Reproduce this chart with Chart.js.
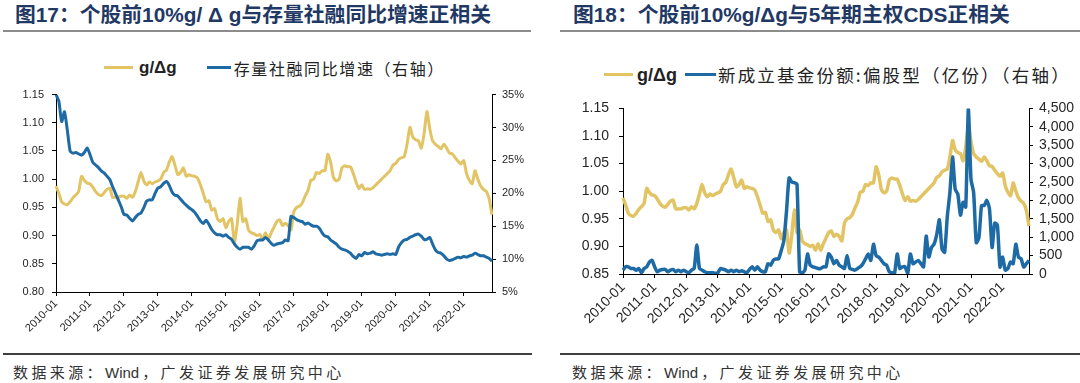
<!DOCTYPE html>
<html>
<head>
<meta charset="utf-8">
<script src="https://cdn.jsdelivr.net/npm/chart.js@4.4.0/dist/chart.umd.min.js"></script>
<style>
html,body{margin:0;padding:0;background:#fff;}
body{width:1080px;height:383px;position:relative;overflow:hidden;font-family:"Liberation Sans","Noto Sans CJK SC",sans-serif;}
.abs{position:absolute;}
.title{font-weight:bold;font-size:20.8px;color:#1F3864;white-space:nowrap;line-height:24px;}
.tline{height:2px;background:#8c8c8c;}
.fline{height:2px;background:#404040;}
.foot{font-size:15px;color:#333;white-space:nowrap;line-height:20px;font-family:"Liberation Sans","Noto Sans CJK SC",sans-serif;}
.foot .c{letter-spacing:3.4px;}
.foot .w{letter-spacing:0;margin-right:3px;}
.leg{white-space:nowrap;color:#222;}
.sw{display:inline-block;height:3px;vertical-align:middle;}
.cjk{font-family:"Noto Sans CJK SC",sans-serif;}
</style>
</head>
<body>
<div class="abs title" style="left:15px;top:3px;">图17：个股前10%g/&nbsp;Δ&nbsp;g与存量社融同比增速正相关</div>
<div class="abs tline" style="left:3px;top:30px;width:528px;"></div>
<div class="abs title" style="left:573px;top:3px;">图18：个股前10%g/Δg与5年期主权CDS正相关</div>
<div class="abs tline" style="left:560px;top:30px;width:520px;"></div>

<div class="abs leg" style="left:104px;top:56px;line-height:22px;">
  <span class="sw" style="width:29px;background:#E2C464;"></span><span style="font-weight:bold;font-size:17px;margin-left:6px;vertical-align:middle;">g/Δg</span><span class="sw" style="width:24px;background:#1D6AA5;margin-left:30px;"></span><span class="cjk" style="font-size:16px;letter-spacing:1.6px;vertical-align:middle;margin-left:3px;">存量社融同比增速（右轴）</span>
</div>
<div class="abs leg" style="left:604px;top:62px;line-height:24px;">
  <span class="sw" style="width:29px;background:#E2C464;"></span><span style="font-weight:bold;font-size:18px;margin-left:4px;vertical-align:middle;">g/Δg</span><span class="sw" style="width:31px;background:#1D6AA5;margin-left:8px;"></span><span class="cjk" style="font-size:17.5px;letter-spacing:2.2px;vertical-align:middle;margin-left:2px;">新成立基金份额:偏股型（亿份）（右轴）</span>
</div>

<canvas id="c1" class="abs" width="540" height="270" style="left:0px;top:80px;"></canvas>
<canvas id="c2" class="abs" width="540" height="260" style="left:540px;top:90px;"></canvas>

<div class="abs fline" style="left:3px;top:353px;width:529px;"></div>
<div class="abs fline" style="left:560px;top:353px;width:520px;"></div>
<div class="abs foot" style="left:13px;top:363px;"><span class="c">数据来源：</span><span class="w">Wind</span><span class="c">，广发证券发展研究中心</span></div>
<div class="abs foot" style="left:572px;top:363px;"><span class="c">数据来源：</span><span class="w">Wind</span><span class="c">，广发证券发展研究中心</span></div>

<script>
// ---- categories (monthly, 2010-01 .. 2022-11) ----
const startYear = 2010;
const monthCount = 155;
const categories = [];
for (let i = 0; i < monthCount; i++) {
  const y = startYear + Math.floor(i / 12);
  const m = (i % 12) + 1;
  categories.push(y + '-' + (m < 10 ? '0' + m : '' + m));
}

// g/Δg of top-10% stocks (left axis, both charts)
const gdg = [
  0.988,0.975,0.960,0.956,0.955,0.960,0.967,0.972,0.978,1.005,0.998,0.993,
  0.992,0.986,0.978,0.973,0.971,0.976,0.982,0.984,0.968,0.968,0.968,0.970,
  0.970,0.966,0.972,0.968,0.978,0.995,1.012,0.997,0.990,0.995,0.992,0.995,
  0.997,1.000,1.012,1.016,1.030,1.040,1.025,1.008,1.012,1.020,1.005,1.008,
  1.006,1.005,1.002,0.990,0.975,0.960,0.962,0.945,0.948,0.930,0.925,0.930,
  0.914,0.925,0.930,0.888,0.920,0.966,0.925,0.930,0.910,0.905,0.903,0.900,
  0.902,0.893,0.905,0.893,0.905,0.915,0.925,0.928,0.918,0.922,0.918,0.910,
  0.942,0.950,0.952,0.958,0.970,0.980,0.998,1.000,1.012,1.010,1.015,1.015,
  1.044,1.030,1.003,0.997,1.000,1.020,1.024,1.022,1.022,1.010,0.995,0.983,
  0.990,0.982,0.983,0.982,0.985,0.990,0.995,1.000,1.005,1.010,1.015,1.025,
  1.028,1.035,1.038,1.040,1.062,1.092,1.075,1.070,1.068,1.055,1.080,1.120,
  1.090,1.068,1.062,1.058,1.054,1.062,1.055,1.046,1.045,1.038,1.032,1.027,
  1.033,1.010,0.998,0.992,1.015,1.000,0.988,0.982,0.978,0.965,0.937
];

// 存量社融同比增速 (%) (right axis, chart 1)
const tsfGrowth = [
  35.0,34.0,30.9,32.4,29.6,26.4,26.1,26.2,26.0,25.8,26.2,26.9,
  25.9,24.7,24.3,23.9,23.4,23.1,22.6,22.1,21.0,20.0,19.0,18.0,
  16.8,16.7,16.2,15.8,16.3,16.8,17.0,17.8,18.8,19.0,19.0,20.0,
  20.8,21.0,21.5,21.8,21.2,20.2,19.7,19.6,19.1,18.6,18.2,17.8,
  17.5,17.1,16.5,15.8,15.4,15.9,15.3,14.5,14.0,13.7,13.7,13.5,
  13.7,13.3,13.0,12.3,11.8,11.5,11.8,11.8,11.8,11.5,12.0,12.8,
  12.9,12.9,13.3,12.9,12.4,12.1,12.3,12.4,12.5,12.9,12.8,16.5,
  16.3,16.0,15.8,15.7,15.3,15.5,15.2,15.0,15.0,14.7,14.0,13.5,
  13.4,12.9,12.6,12.3,11.8,11.5,11.4,11.2,10.9,10.4,10.1,10.7,
  10.5,11.0,10.8,10.9,11.1,10.8,10.7,10.6,10.7,10.8,10.7,10.8,
  10.7,11.8,12.5,12.9,13.0,13.3,13.5,13.7,13.8,13.5,13.0,13.0,
  13.3,12.3,11.4,11.0,10.9,10.5,10.0,9.8,9.9,10.1,10.3,10.2,
  10.4,10.3,10.5,10.6,10.9,10.7,10.5,10.5,10.3,10.1,9.7
];

// 新成立基金份额:偏股型 (亿份) (right axis, chart 2)
const fundShares = [
  105,195,195,150,150,105,150,35,150,195,325,370,
  195,60,105,125,125,60,105,125,60,105,60,105,
  60,35,105,150,790,150,105,60,35,35,35,20,
  35,150,130,105,60,105,60,105,60,90,60,35,
  125,195,105,195,105,60,60,280,240,370,410,410,
  630,900,1690,2610,2500,2480,2440,60,35,105,545,240,
  195,175,150,150,195,195,545,460,280,370,240,195,
  150,500,150,125,105,150,195,280,410,545,370,810,
  500,460,370,280,240,60,35,20,545,150,195,195,
  20,545,280,325,370,280,195,1030,460,720,810,1070,
  1470,680,590,1555,2215,3180,2300,2170,1600,1950,1820,4500,
  2570,2215,850,985,1860,1860,2000,1775,720,1380,1335,190,
  460,105,150,325,280,810,460,410,190,280,370
];

// axis tick settings
const leftTicks1 = {min:0.80, max:1.15, step:0.05};
const rightTicks1 = {min:5, max:35, step:5};
const leftTicks2 = {min:0.85, max:1.15, step:0.05};
const rightTicks2 = {min:0, max:4500, step:500};

const YELLOW = '#E2C464';
const BLUE = '#1D6AA5';
const TXT = '#262626';

function fixW(w){ return function(s){ s.width = w; }; }
function fixH(h){ return function(s){ s.height = h; }; }

function makeChart(id, o) {
  return new Chart(document.getElementById(id), {
    type: 'line',
    data: {
      labels: categories,
      datasets: [
        {data: o.left, yAxisID:'y', borderColor: YELLOW, borderWidth: o.lw, pointRadius:0, tension:0.2, order:2, borderJoinStyle:'round'},
        {data: o.right, yAxisID:'y1', borderColor: BLUE, borderWidth: o.lw, pointRadius:0, tension:0.2, order:1, borderJoinStyle:'round'}
      ]
    },
    options: {
      responsive:false, animation:false, devicePixelRatio:1,
      layout:{padding:{top:o.padTop,left:0,right:0,bottom:0}},
      plugins:{legend:{display:false}, tooltip:{enabled:false}},
      scales:{
        x:{
          afterFit: fixH(o.xH),
          afterBuildTicks: function(s){ s.ticks = s.ticks.filter(t => t.value % 12 === 0); },
          grid:{drawOnChartArea:false, drawTicks:true, tickLength:4, color:'#000'},
          border:{color:'#000', width:1},
          ticks:{autoSkip:false, minRotation:45, maxRotation:45, padding:1, color:TXT, font:{size:o.fs, family:'Liberation Sans'}}
        },
        y:{
          position:'left', min:o.lt.min, max:o.lt.max,
          afterFit: fixW(o.yW),
          grid:{drawOnChartArea:false, drawTicks:true, tickLength:4, color:'#000'},
          border:{color:'#000', width:1},
          ticks:{autoSkip:false, stepSize:o.lt.step, padding:o.lPad, color:TXT, font:{size:o.fs, family:'Liberation Sans'}, callback:v=>Number(v).toFixed(2)}
        },
        y1:{
          position:'right', min:o.rt.min, max:o.rt.max,
          afterFit: fixW(o.y1W),
          grid:{drawOnChartArea:false, drawTicks:true, tickLength:4, color:'#000'},
          border:{color:'#000', width:1},
          ticks:{autoSkip:false, stepSize:o.rt.step, padding:o.rPad, color:TXT, font:{size:o.fs, family:'Liberation Sans'}, callback:o.rfmt}
        }
      }
    }
  });
}

makeChart('c1', {left:gdg, right:tsfGrowth, lt:leftTicks1, rt:rightTicks1, lw:3,
  padTop:11, xH:58, yW:56, y1W:48, fs:11, lPad:8, rPad:6, rfmt:v=>Math.round(v)+'%'});
makeChart('c2', {left:gdg, right:fundShares, lt:leftTicks2, rt:rightTicks2, lw:3.5,
  padTop:13, xH:76, yW:83, y1W:51, fs:14, lPad:10, rPad:6, rfmt:v=>Number(v).toLocaleString('en-US')});
</script>
</body>
</html>
